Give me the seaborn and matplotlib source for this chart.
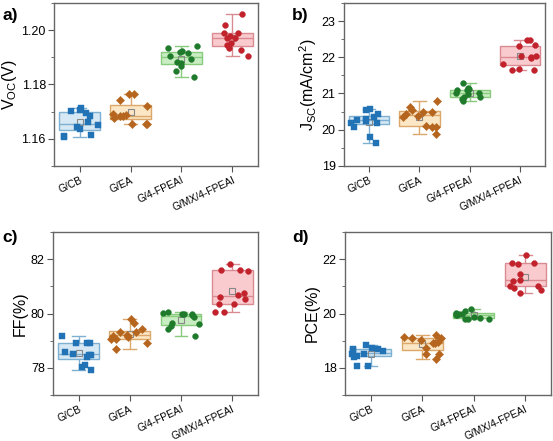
import numpy as np
import pandas as pd
import seaborn as sns
import matplotlib.pyplot as plt
from matplotlib.ticker import AutoMinorLocator, MultipleLocator

# groups and readings per device
groups = ["G/CB", "G/EA", "G/4-FPEAI", "G/MX/4-FPEAI"]

voc = [
    [1.1606, 1.1684, 1.1642, 1.1661, 1.1650, 1.1714, 1.1707, 1.1610, 1.1701, 1.1636, 1.1696, 1.1614],
    [1.1686, 1.1678, 1.1684, 1.1653, 1.1744, 1.1766, 1.1720, 1.1692, 1.1766, 1.1653, 1.1682, 1.1655],
    [1.1942, 1.1934, 1.1922, 1.1894, 1.1916, 1.1918, 1.1906, 1.1880, 1.1881, 1.1867, 1.1850, 1.1828],
    [1.2058, 1.2018, 1.1972, 1.1988, 1.1980, 1.1972, 1.1988, 1.1946, 1.1953, 1.1928, 1.1933, 1.1905],
]
jsc = [
    [20.26, 20.42, 20.29, 20.53, 20.36, 20.56, 20.25, 20.18, 20.06, 20.18, 19.80, 19.62],
    [20.06, 20.11, 20.35, 20.55, 20.50, 20.64, 20.80, 19.87, 20.49, 20.38, 20.07, 20.44],
    [21.30, 20.99, 21.02, 21.12, 21.00, 20.90, 20.79, 20.84, 21.10, 21.10, 21.15, 20.90],
    [21.99, 22.03, 22.31, 22.49, 22.35, 22.49, 22.01, 22.05, 21.81, 21.65, 21.65, 21.67],
]
ff = [
    [78.90, 78.42, 78.57, 78.12, 79.17, 78.51, 77.94, 78.90, 78.02, 78.90, 78.46, 78.48],
    [79.07, 79.22, 79.13, 79.19, 79.80, 79.65, 79.43, 78.93, 78.71, 79.31, 79.31, 79.05],
    [79.54, 79.98, 80.04, 79.98, 79.87, 80.01, 79.98, 79.95, 79.61, 79.65, 79.45, 79.17],
    [81.58, 81.61, 81.81, 81.61, 80.52, 80.61, 80.69, 80.77, 80.35, 80.35, 80.06, 80.06],
]
pce = [
    [18.61, 18.69, 18.51, 18.85, 18.42, 18.45, 18.67, 18.72, 18.69, 18.07, 18.07, 18.51],
    [18.53, 18.53, 19.09, 19.09, 19.14, 18.91, 18.96, 19.03, 18.90, 19.20, 18.72, 18.33],
    [19.96, 20.08, 19.81, 19.99, 19.81, 20.02, 19.84, 19.96, 19.81, 20.18, 20.00, 19.87],
    [22.15, 21.84, 21.87, 21.87, 21.21, 21.24, 21.45, 20.93, 20.87, 21.03, 21.03, 20.76],
]

# styling per group
point_colors = ["#2173b6", "#b5651d", "#1f7a2c", "#c1222c"]
fill_colors = ["#d6e8f3", "#fbe6c6", "#c9edc2", "#f9cbce"]
edge_colors = ["#7fb0d2", "#dba76a", "#88cb7c", "#da8a91"]
markers = ["s", "D", "o", "o"]

panels = [
    ("a)", voc, r"V$_\mathregular{OC}$(V)", (1.15, 1.21), 0.02),
    ("b)", jsc, r"J$_\mathregular{SC}$(mA/cm$^\mathregular{2}$)", (19, 23.5), 1),
    ("c)", ff, "FF(%)", (77, 83), 2),
    ("d)", pce, "PCE(%)", (17, 23), 2),
]

positions = [
    [0.098, 0.624, 0.368, 0.369],
    [0.622, 0.624, 0.364, 0.369],
    [0.096, 0.104, 0.370, 0.370],
    [0.624, 0.104, 0.372, 0.370],
]
label_pos = [(0.004, 0.965), (0.528, 0.965), (0.004, 0.462), (0.528, 0.462)]

plt.rcParams["font.family"] = ["Liberation Sans", "DejaVu Sans"]
np.random.seed(7)

fig = plt.figure(figsize=(5.53, 4.41), dpi=100)

for (tag, values, ylabel, ylim, step), pos, lp in zip(panels, positions, label_pos):
    ax = fig.add_axes(pos)
    df = pd.DataFrame({
        "group": np.repeat(groups, [len(v) for v in values]),
        "value": np.concatenate(values),
    })
    for i, g in enumerate(groups):
        sub = df[df["group"] == g]
        sns.boxplot(data=sub, x="group", y="value", order=groups, ax=ax,
                    color=fill_colors[i], linecolor=edge_colors[i], saturation=1,
                    width=0.8, whis=(0, 100), showfliers=False, linewidth=1,
                    showmeans=True,
                    meanprops=dict(marker="s", markerfacecolor="none",
                                   markeredgecolor="#888888", markersize=5,
                                   markeredgewidth=0.8),
                    capwidths=0.25)
        sns.stripplot(data=sub, x="group", y="value", order=groups, ax=ax,
                      color=point_colors[i], marker=markers[i], size=4.2,
                      jitter=0.37, edgecolor=point_colors[i], linewidth=0.3,
                      zorder=4)

    ax.set_xlim(-0.5, 3.5)
    ax.set_ylim(*ylim)
    ax.yaxis.set_major_locator(MultipleLocator(step))
    ax.yaxis.set_minor_locator(AutoMinorLocator(2))
    if tag == "a)":
        ax.yaxis.set_major_formatter(plt.FormatStrFormatter("%.2f"))
    ax.set_xlabel("")
    ax.set_ylabel(ylabel, fontsize=11.5, labelpad=2)
    ax.tick_params(axis="y", which="major", labelsize=9, length=4, pad=2,
                   color="#555555")
    ax.tick_params(axis="y", which="minor", length=2.5, color="#555555")
    ax.tick_params(axis="x", labelsize=7.4, length=4, pad=2.5, color="#555555")
    for lab in ax.get_xticklabels():
        lab.set_rotation(25)
        lab.set_ha("right")
        lab.set_rotation_mode("anchor")
    for sp in ax.spines.values():
        sp.set_color("#666666")
        sp.set_linewidth(1)
    fig.text(lp[0], lp[1], tag, fontsize=12.5, fontweight="bold", va="center")

fig.savefig("out.png", dpi=100)
